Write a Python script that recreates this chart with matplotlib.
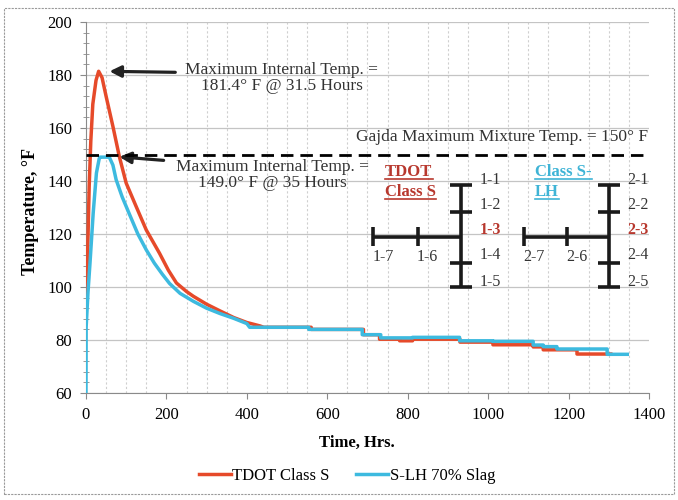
import matplotlib
matplotlib.use('Agg')
import matplotlib.pyplot as plt
from matplotlib.lines import Line2D
from matplotlib.patches import Rectangle
from matplotlib.ticker import MultipleLocator

plt.rcParams['font.family'] = ['Liberation Serif', 'DejaVu Serif']

# values (hours, deg F)
t_tdot = [0, 4, 8, 12, 17, 25, 31.5, 40, 50, 67, 83, 100, 125, 150, 183, 205, 225, 250, 267,
          300, 333, 367, 400, 433, 442, 560, 560, 690, 690, 730, 730, 780, 780, 812, 812, 930,
          930, 1012, 1012, 1112, 1112, 1137, 1137, 1221, 1221, 1305]
T_tdot = [93, 112, 138, 155, 169, 178, 181.4, 179, 172, 160.6, 149.2, 139.2, 130.3, 121.5,
          112.7, 106.3, 101.5, 98.3, 96.5, 93.5, 91, 88.5, 86.6, 85.3, 84.8, 84.8, 84.0, 84.0,
          82.0, 82.0, 80.3, 80.3, 79.7, 79.7, 80.3, 80.3, 79.2, 79.2, 78.2, 78.2, 77.4, 77.4,
          76.3, 76.3, 74.7, 74.7]

t_slag = [0, 0.5, 5, 10, 18, 26, 33, 35, 58, 67, 75, 90, 108, 129, 150, 170, 190, 208, 234,
          267, 300, 333, 367, 400, 407, 554, 554, 687, 687, 733, 733, 812, 812, 929, 929, 1012,
          1012, 1112, 1112, 1137, 1137, 1171, 1171, 1296, 1296, 1346]
T_slag = [60, 85, 98, 109, 128, 143, 148.5, 149.0, 149, 146, 140.5, 134, 127.5, 120, 114, 109,
          104.8, 101.3, 97.6, 94.6, 92, 90, 88.2, 86.2, 84.8, 84.8, 84.0, 84.0, 82.0, 82.0, 80.8,
          80.8, 81.0, 81.0, 79.7, 79.7, 79.5, 79.5, 78.1, 78.1, 77.5, 77.5, 76.6, 76.6, 74.6, 74.6]

gajda_limit = 150
peak_tdot = (31.5, 181.4)
peak_slag = (35, 149.0)

red = '#e64a2a'
cyan = '#3dbadf'
lab_red = '#b8382e'
lab_cyan = '#3fb4d6'
txt_col = '#333333'

fig = plt.figure(figsize=(6.78, 5.0), dpi=100)
ax = fig.add_axes([0.1268, 0.214, 0.8304, 0.742])

ax.plot(t_tdot, T_tdot, color=red, lw=2.5, label='TDOT Class S', zorder=4)
ax.plot(t_slag, T_slag, color=cyan, lw=2.5, label='S-LH 70% Slag', zorder=5)
ax.axhline(gajda_limit, color='black', lw=2.0, ls=(0, (4.5, 2.5)), zorder=6)

ax.set_xlim(0, 1400)
ax.set_ylim(60, 200)
ax.xaxis.set_major_locator(MultipleLocator(200))
ax.xaxis.set_minor_locator(MultipleLocator(50))
ax.yaxis.set_major_locator(MultipleLocator(20))
ax.yaxis.set_minor_locator(MultipleLocator(4))
ax.grid(which='major', axis='y', color='#c4c4c4', lw=0.9)
ax.grid(which='minor', axis='x', color='#cfcfcf', lw=0.8, ls=(0, (2, 2)))
ax.set_axisbelow(True)
for s in ['top', 'right']:
    ax.spines[s].set_visible(False)
for s in ['left', 'bottom']:
    ax.spines[s].set_color('#8a8a8a')
ax.tick_params(axis='both', which='major', labelsize=12, length=4, color='#8a8a8a', pad=6)
ax.tick_params(axis='y', which='minor', direction='inout', length=4, color='#8a8a8a')
ax.tick_params(axis='x', which='minor', length=0)

ax.set_xlabel('Time, Hrs.', fontsize=12, fontweight='bold')
ax.set_ylabel('Temperature, °F', fontsize=13, fontweight='bold')
ax.xaxis.set_label_coords(0.481, -0.112)
ax.yaxis.set_label_coords(-0.083, 0.49)

# peak annotations
ax.annotate('', xy=(peak_tdot[0] + 20, peak_tdot[1]), xytext=(229, 181),
            arrowprops=dict(arrowstyle='-|>', color='#222222', lw=2.3, mutation_scale=17))
ax.text(487, 178.9, 'Maximum Internal Temp. =\n181.4° F @ 31.5 Hours', ha='center',
        va='center', fontsize=12.5, color=txt_col, linespacing=1.05)
ax.annotate('', xy=(peak_slag[0] + 41, 149.2), xytext=(200, 147.7),
            arrowprops=dict(arrowstyle='-|>', color='#222222', lw=2.3, mutation_scale=17))
ax.text(464, 142.3, 'Maximum Internal Temp. =\n149.0° F @ 35 Hours', ha='center',
        va='center', fontsize=12.5, color=txt_col, linespacing=1.05)
ax.text(1397, 156.6, 'Gajda Maximum Mixture Temp. = 150° F', ha='right', va='center',
        fontsize=12.5, color=txt_col)

# thermocouple layout sketches
def cross(x_v, x_left, x_tick, labels_v, labels_h, hot):
    kw = dict(color='#1a1a1a', lw=2.6, solid_capstyle='butt', zorder=7)
    ax.plot([x_v, x_v], [100.1, 138.5], **kw)
    for y in [138.5, 128.4, 109.2, 100.1]:
        ax.plot([x_v - 27, x_v + 27], [y, y], **kw)
    ax.plot([x_left, x_v], [119, 119], **kw)
    for x in [x_left, x_tick]:
        ax.plot([x, x], [115.5, 122.6], **kw)
    for y, lab in zip([140.4, 131, 121.5, 112.1, 102], labels_v):
        if lab == hot:
            ax.text(x_v + 46, y, lab, fontsize=11.5, color=lab_red, fontweight='bold', va='center')
        else:
            ax.text(x_v + 46, y, lab, fontsize=11.5, color=txt_col, va='center')
    for x, lab in zip([x_left + 25, x_tick + 24], labels_h):
        ax.text(x, 111.4, lab, fontsize=11.5, color=txt_col, ha='center', va='center')

cross(932, 714, 825, ['1-1', '1-2', '1-3', '1-4', '1-5'], ['1-7', '1-6'], '1-3')
cross(1301, 1089, 1197, ['2-1', '2-2', '2-3', '2-4', '2-5'], ['2-7', '2-6'], '2-3')

heads = []
heads.append(ax.text(744, 143.5, 'TDOT', fontsize=12, fontweight='bold', color=lab_red, va='center'))
heads.append(ax.text(744, 136, 'Class S', fontsize=12, fontweight='bold', color=lab_red, va='center'))
heads.append(ax.text(1117, 143.5, 'Class S-', fontsize=12, fontweight='bold', color=lab_cyan, va='center'))
heads.append(ax.text(1117, 136, 'LH', fontsize=12, fontweight='bold', color=lab_cyan, va='center'))

fig.legend(loc='center', bbox_to_anchor=(0.512, 0.048), ncol=2, frameon=False,
           fontsize=12, handlelength=1.9, handletextpad=0.1, columnspacing=1.6)

fig.add_artist(Rectangle((0.006, 0.012), 0.988, 0.972, transform=fig.transFigure,
                         fill=False, ec='#9a9a9a', lw=0.8, ls=(0, (2, 1))))

# underline the sketch titles
renderer = fig.canvas.get_renderer()
for h in heads:
    bb = h.get_window_extent(renderer)
    y = (bb.y0 + 0.5) / fig.bbox.height
    fig.add_artist(Line2D([bb.x0 / fig.bbox.width, bb.x1 / fig.bbox.width], [y, y],
                          transform=fig.transFigure, color=h.get_color(), lw=1.2))

fig.savefig('out.png', dpi=100)
